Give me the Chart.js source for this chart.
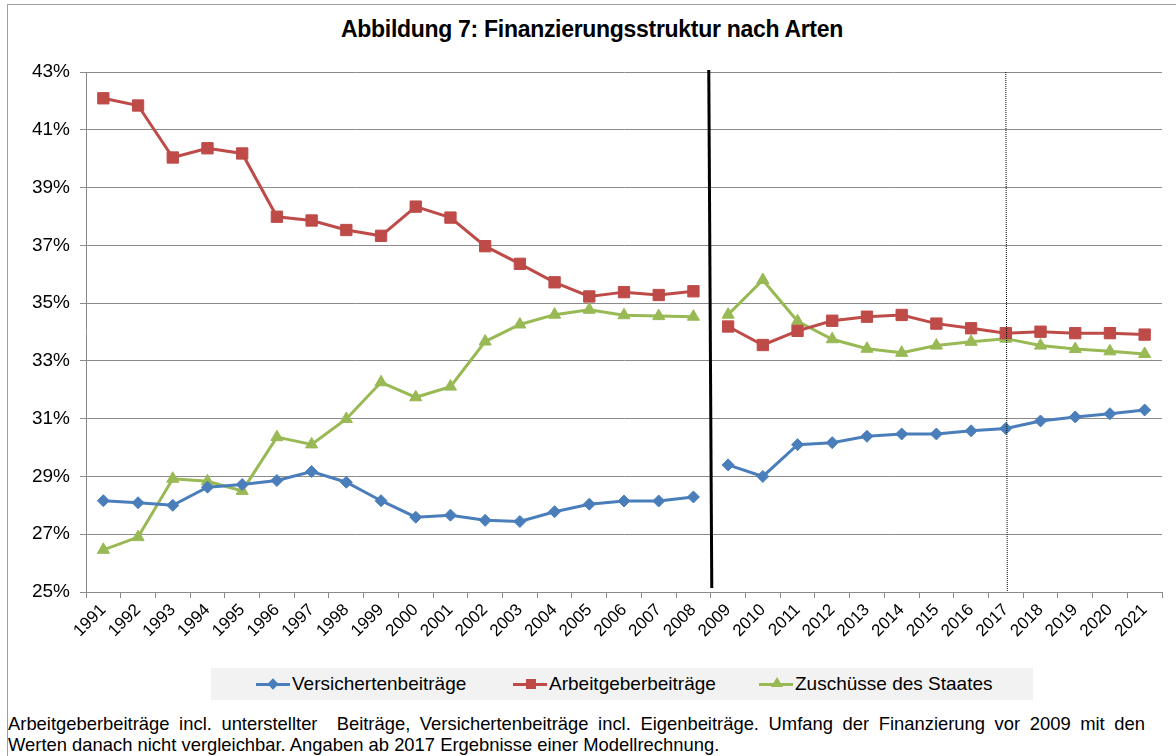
<!DOCTYPE html>
<html>
<head>
<meta charset="utf-8">
<script src="https://cdn.jsdelivr.net/npm/chart.js@4.4.1/dist/chart.umd.min.js"></script>
<style>
  body { margin: 0; width: 1176px; height: 756px; overflow: hidden; background: #fff;
         font-family: 'Liberation Sans', Arial, sans-serif; color: #000; }
  #frame { position: absolute; left: 7px; top: 4px; width: 1200px; height: 800px; border: 1px solid #a0a0a0; }
  #title { position: absolute; left: 8px; top: 16px; width: 1168px; text-align: center;
           font-weight: bold; font-size: 23px; letter-spacing: -0.3px; }
  #chartBox { position: absolute; left: 8px; top: 5px; width: 1168px; height: 655px; }
  #legend { position: absolute; left: 211px; top: 668px; width: 822px; height: 32px; background: #f2f2f2; }
  .item { position: absolute; top: 0; height: 32px; line-height: 32px; font-size: 19px; white-space: nowrap; }
  .mark { position: absolute; top: 15px; width: 34px; height: 3px; }
  .mark i { position: absolute; left: 13px; }
  #note { position: absolute; left: 8px; top: 713px; width: 1137px; font-size: 18.4px; line-height: 21px;
          text-align: justify; }
</style>
</head>
<body>
<div id="frame"></div>
<div id="title">Abbildung 7: Finanzierungsstruktur nach Arten</div>
<div id="chartBox"><canvas id="chart"></canvas></div>
<div id="legend"></div>
<div id="note">Arbeitgeberbeiträge incl. unterstellter&nbsp; Beiträge, Versichertenbeiträge incl. Eigenbeiträge. Umfang der Finanzierung vor 2009 mit den Werten danach nicht vergleichbar. Angaben ab 2017 Ergebnisse einer Modellrechnung.</div>
<script>
const years = ['1991', '1992', '1993', '1994', '1995', '1996', '1997', '1998', '1999', '2000',
  '2001', '2002', '2003', '2004', '2005', '2006', '2007', '2008', '2009', '2010',
  '2011', '2012', '2013', '2014', '2015', '2016', '2017', '2018', '2019', '2020', '2021'];

// shares in percent
const versicherten = [28.16, 28.09, 28.0, 28.63, 28.72, 28.86, 29.17, 28.8, 28.16, 27.59,
  27.66, 27.48, 27.44, 27.78, 28.04, 28.15, 28.15, 28.29, 29.4, 29.0,
  30.1, 30.17, 30.39, 30.47, 30.47, 30.58, 30.66, 30.92, 31.06, 31.17, 31.3];
const arbeitgeber = [42.09, 41.84, 40.04, 40.36, 40.18, 37.99, 37.86, 37.53, 37.33, 38.34,
  37.96, 36.97, 36.36, 35.72, 35.23, 35.38, 35.28, 35.41, 34.19, 33.55,
  34.04, 34.39, 34.53, 34.59, 34.29, 34.13, 33.96, 34.01, 33.96, 33.96, 33.91];
const zuschuesse = [26.46, 26.9, 28.92, 28.83, 28.5, 30.36, 30.11, 30.99, 32.26, 31.74,
  32.11, 33.67, 34.26, 34.6, 34.77, 34.58, 34.55, 34.53, 34.6, 35.8,
  34.37, 33.75, 33.42, 33.28, 33.53, 33.66, 33.77, 33.53, 33.41, 33.33, 33.24];

const yTicks = [25, 27, 29, 31, 33, 35, 37, 39, 41, 43];
const breakYear = '2008';   // series not comparable across this cut
const modelYear = '2017';   // model calculation from here on

const breakIndex = years.indexOf(breakYear);
const modelIndex = years.indexOf(modelYear);

const series = [
  { label: 'Versichertenbeiträge', data: versicherten, color: '#4a7ebb', style: 'rectRot', radius: 6 },
  { label: 'Arbeitgeberbeiträge', data: arbeitgeber, color: '#be4b48', style: 'rect', radius: 8 },
  { label: 'Zuschüsse des Staates', data: zuschuesse, color: '#98b954', style: 'triangle', radius: 7 },
];

const gapAtBreak = (ctx) => ctx.p0DataIndex === breakIndex ? 'rgba(0,0,0,0)' : undefined;

const separators = {
  id: 'separators',
  afterDatasetsDraw(chart) {
    const { ctx, chartArea, scales: { x } } = chart;
    const cut = (x.getPixelForValue(breakIndex) + x.getPixelForValue(breakIndex + 1)) / 2;
    ctx.save();
    ctx.strokeStyle = '#000';
    ctx.lineWidth = 3;
    ctx.beginPath();
    ctx.moveTo(cut - 2, chartArea.top - 2);
    ctx.lineTo(cut + 1, chartArea.bottom - 4);
    ctx.stroke();

    const dot = x.getPixelForValue(modelIndex);
    ctx.lineWidth = 1;
    ctx.setLineDash([1, 1]);
    ctx.beginPath();
    ctx.moveTo(dot, chartArea.top);
    ctx.lineTo(dot + 1.5, chartArea.bottom);
    ctx.stroke();
    ctx.restore();
  },
};

const ctx = document.getElementById('chart').getContext('2d');
new Chart(ctx, {
  type: 'line',
  data: {
    labels: years,
    datasets: series.map(s => ({
      label: s.label,
      data: s.data,
      borderColor: s.color,
      backgroundColor: s.color,
      borderWidth: 3,
      pointStyle: s.style,
      pointRadius: s.radius,
      pointHoverRadius: s.radius,
      pointBorderWidth: 1,
      tension: 0,
      fill: false,
      segment: { borderColor: gapAtBreak },
    })),
  },
  options: {
    responsive: true,
    maintainAspectRatio: false,
    animation: false,
    layout: { padding: { top: 67, right: 14, left: 0, bottom: 0 } },
    scales: {
      x: {
        offset: true,
        afterFit: (s) => { s.height = 68; },
        grid: { offset: true, drawOnChartArea: false, drawTicks: true, tickLength: 6, color: '#8a8a8a' },
        border: { display: true, color: '#8a8a8a', width: 1 },
        ticks: {
          color: '#000',
          font: { family: "'Liberation Sans', Arial, sans-serif", size: 17 },
          minRotation: 45,
          maxRotation: 45,
          autoSkip: false,
          padding: 2,
        },
      },
      y: {
        min: yTicks[0],
        max: yTicks[yTicks.length - 1],
        afterFit: (s) => { s.width = 78; },
        afterBuildTicks: (s) => { s.ticks = yTicks.map(v => ({ value: v })); },
        grid: { color: '#8a8a8a', lineWidth: 1, tickLength: 6 },
        border: { display: true, color: '#8a8a8a', width: 1 },
        ticks: {
          color: '#000',
          font: { family: "'Liberation Sans', Arial, sans-serif", size: 19 },
          padding: 10,
          callback: (v) => v + '%',
        },
      },
    },
    plugins: {
      legend: { display: false },
      title: { display: false },
      tooltip: { enabled: false },
    },
  },
  plugins: [separators],
});

// legend in the grey strip below the chart
const legendPos = [256, 513, 759];
const legend = document.getElementById('legend');
series.forEach((s, i) => {
  const item = document.createElement('div');
  item.className = 'item';
  item.style.left = (legendPos[i] - 211) + 'px';
  const mark = document.createElement('span');
  mark.className = 'mark';
  mark.style.background = s.color;
  const dot = document.createElement('i');
  if (s.style === 'rectRot') {
    dot.style.cssText = 'top:-3px;width:8px;height:8px;background:' + s.color + ';transform:rotate(45deg);';
  } else if (s.style === 'rect') {
    dot.style.cssText = 'top:-4px;width:10px;height:10px;background:' + s.color + ';';
  } else {
    dot.style.cssText = 'top:-6px;left:12px;width:0;height:0;border-left:6px solid transparent;border-right:6px solid transparent;border-bottom:10px solid ' + s.color + ';';
  }
  mark.appendChild(dot);
  const text = document.createElement('span');
  text.textContent = s.label;
  text.style.marginLeft = '36px';
  item.appendChild(mark);
  item.appendChild(text);
  legend.appendChild(item);
});
</script>
</body>
</html>
